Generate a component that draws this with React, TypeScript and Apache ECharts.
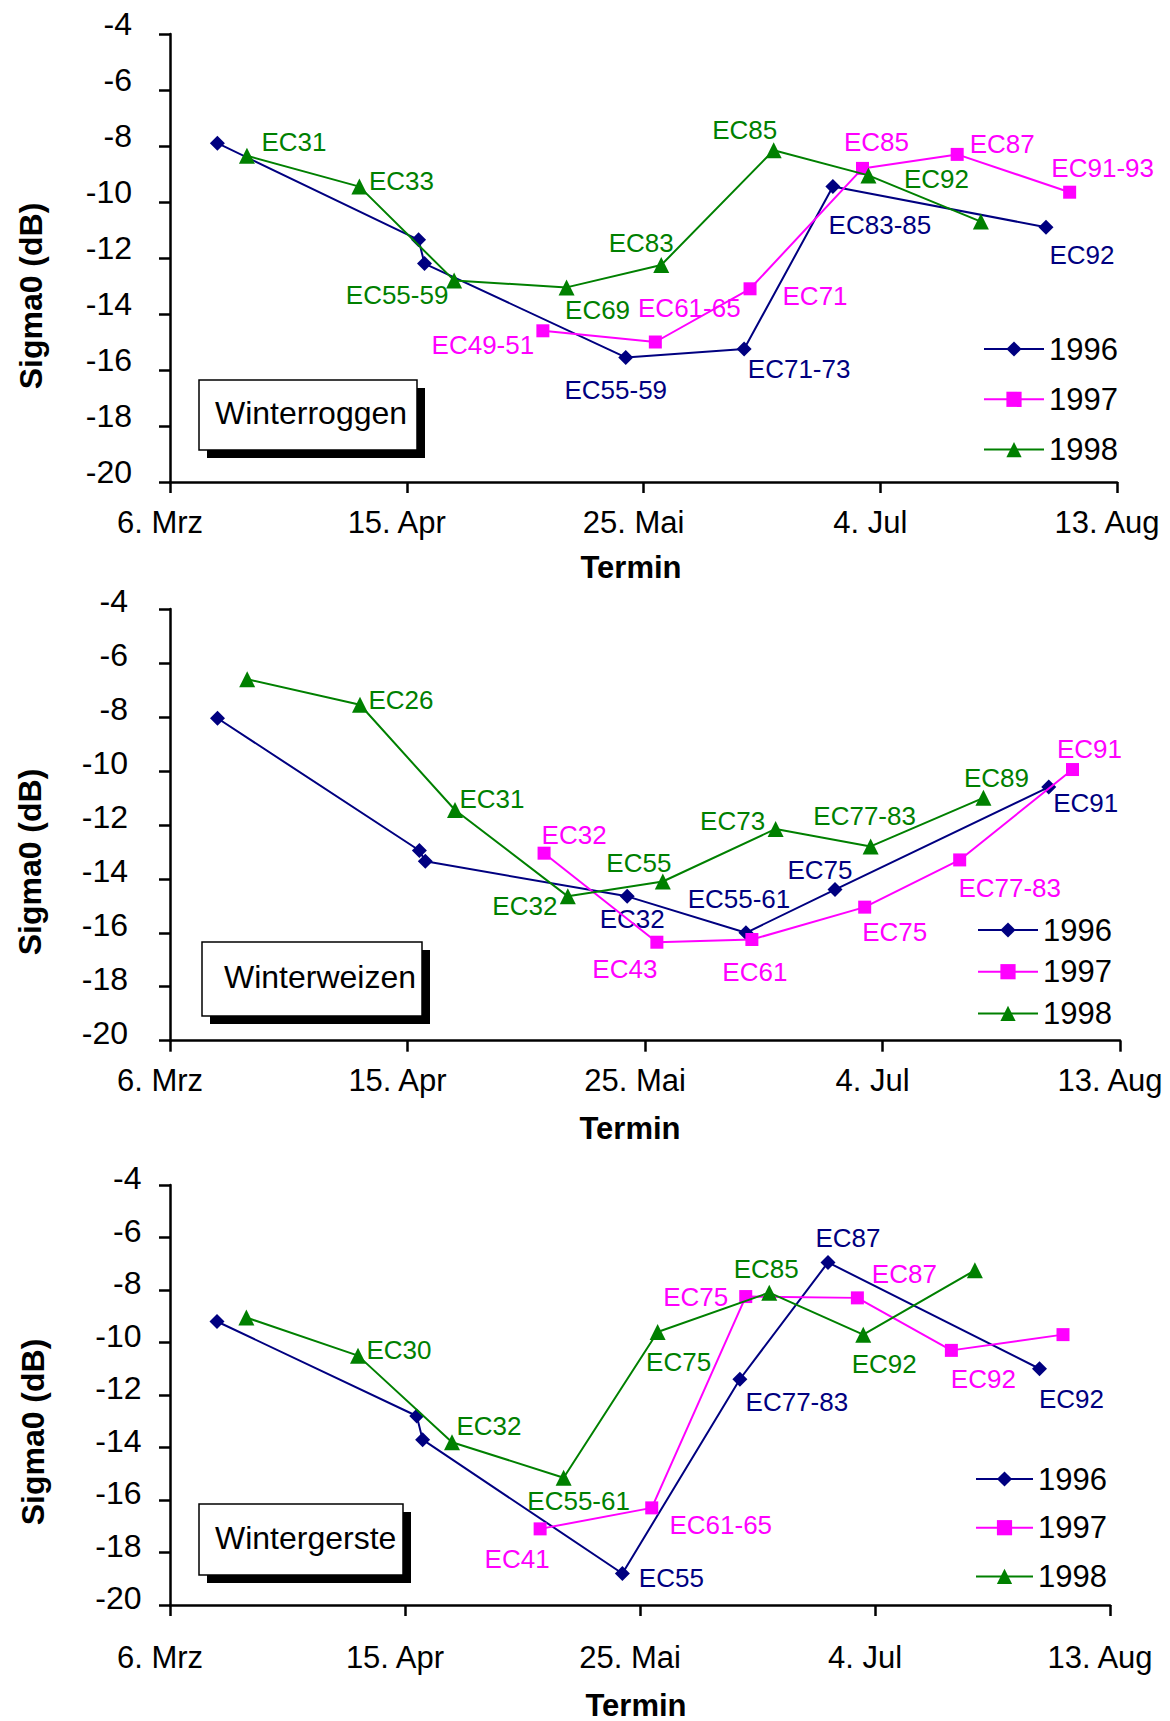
import React, { useEffect, useRef } from "react";
import * as echarts from "echarts";

// ---------- data ----------
const tickLabels = ["6. Mrz", "15. Apr", "25. Mai", "4. Jul", "13. Aug"];
const years = ["1996", "1997", "1998"];
const panelTitles = ["Winterroggen", "Winterweizen", "Wintergerste"];
const yAxisTitle = "Sigma0 (dB)";
const xAxisTitle = "Termin";

// acquisition dates (month-day), same for all crops of one year
const dates1996 = ["03-14", "04-17", "04-18", "05-22", "06-11", "06-26", "08-01"];
const dates1997 = ["05-08", "05-27", "06-12", "07-01", "07-17", "08-05"];
const dates1998 = ["03-19", "04-07", "04-23", "05-12", "05-28", "06-16", "07-02", "07-21"];

// Winterroggen
const roggen1996 = [-7.9, -11.35, -12.2, -15.55, -15.25, -9.45, -10.9];
const roggen1996Labels = ["", "", "", "EC55-59", "EC71-73", "EC83-85", "EC92"];
const roggen1997 = [-14.6, -15.0, -13.1, -8.8, -8.3, -9.65];
const roggen1997Labels = ["EC49-51", "EC61-65", "EC71", "EC85", "EC87", "EC91-93"];
const roggen1998 = [-8.35, -9.45, -12.8, -13.05, -12.25, -8.15, -9.05, -10.7];
const roggen1998Labels = ["EC31", "EC33", "EC55-59", "EC69", "EC83", "EC85", "EC92", ""];

// Winterweizen
const weizen1996 = [-8.05, -12.95, -13.35, -14.65, -16.0, -14.4, -10.6];
const weizen1996Labels = ["", "", "", "EC32", "EC55-61", "EC75", "EC91"];
const weizen1997 = [-13.05, -16.35, -16.25, -15.05, -13.3, -9.95];
const weizen1997Labels = ["EC32", "EC43", "EC61", "EC75", "EC77-83", "EC91"];
const weizen1998 = [-6.6, -7.55, -11.45, -14.65, -14.1, -12.15, -12.8, -11.0];
const weizen1998Labels = ["", "EC26", "EC31", "EC32", "EC55", "EC73", "EC77-83", "EC89"];

// Wintergerste
const gerste1996 = [-9.2, -12.8, -13.7, -18.8, -11.4, -6.95, -11.0];
const gerste1996Labels = ["", "", "", "EC55", "EC77-83", "EC87", "EC92"];
const gerste1997 = [-17.1, -16.3, -8.25, -8.3, -10.3, -9.7];
const gerste1997Labels = ["EC41", "EC61-65", "EC75", "EC87", "EC92", ""];
const gerste1998 = [-9.05, -10.5, -13.8, -15.15, -9.6, -8.1, -9.7, -7.25];
const gerste1998Labels = ["", "EC30", "EC32", "EC55-61", "EC75", "EC85", "EC92", ""];

// ---------- layout / style ----------
const FONT = "'Liberation Sans', Arial, sans-serif";
const COLORS = ["#000080", "#FF00FF", "#008000"];
const SYMBOLS = ["diamond", "rect", "triangle"];
const SYMBOL_SIZES = [15, 13, 16];

// label offsets (pixels from the marker centre), parallel to the label arrays
const labelOffsets = [
  [
    [null, null, null, [-10, 33], [55, 20], [47, 38], [36, 28]],
    [[-60, 14], [34, -34], [65, 7], [14, -26], [45, -10], [33, -24]],
    [[47, -14], [42, -6], [-57, 15], [31, 23], [-20, -22], [-29, -20], [68, 4], null],
  ],
  [
    [null, null, null, [5, 23], [-7, -34], [-15, -20], [37, 16]],
    [[30, -18], [-32, 27], [3, 32], [30, 25], [50, 28], [17, -21]],
    [null, [41, -5], [37, -11], [-43, 10], [-24, -19], [-43, -8], [-6, -30], [13, -20]],
  ],
  [
    [null, null, null, [49, 4], [57, 23], [20, -24], [32, 30]],
    [[-23, 30], [69, 17], [-50, 0], [47, -24], [32, 29], null],
    [null, [41, -6], [37, -16], [15, 23], [21, 30], [-3, -24], [21, 29], null],
  ],
];

const PANELS = [
  {
    grid: { left: 170, top: 34, width: 947, height: 448 },
    yLabelMargin: 38, yLabelShift: 20, xLabelMargin: 25,
    legend: { left: 983, top: 333, gap: 18.3, itemWidth: 60 },
    box: { x: 199, y: 380, w: 218, h: 70 }, titleX: 215,
    sigma: { x: 31, y: 296 }, termin: { x: 631, y: 567 },
  },
  {
    grid: { left: 170, top: 609, width: 950, height: 431.7 },
    yLabelMargin: 42, yLabelShift: 16, xLabelMargin: 24,
    legend: { left: 977, top: 914, gap: 9.7, itemWidth: 60 },
    box: { x: 202, y: 942, w: 220, h: 74 }, titleX: 224,
    sigma: { x: 30, y: 862 }, termin: { x: 630, y: 1128 },
  },
  {
    grid: { left: 170, top: 1185, width: 940, height: 420 },
    yLabelMargin: 28.5, yLabelShift: 14, xLabelMargin: 37,
    legend: { left: 975, top: 1463, gap: 16.7, itemWidth: 57 },
    box: { x: 199, y: 1504, w: 204, h: 71 }, titleX: 215,
    sigma: { x: 33, y: 1432 }, termin: { x: 636, y: 1705 },
  },
];

const panelData = [
  [[roggen1996, roggen1996Labels], [roggen1997, roggen1997Labels], [roggen1998, roggen1998Labels]],
  [[weizen1996, weizen1996Labels], [weizen1997, weizen1997Labels], [weizen1998, weizen1998Labels]],
  [[gerste1996, gerste1996Labels], [gerste1997, gerste1997Labels], [gerste1998, gerste1998Labels]],
];
const yearDates = [dates1996, dates1997, dates1998];

function dayOffset(md: string): number {
  const [m, d] = md.split("-").map(Number);
  return (Date.UTC(2001, m - 1, d) - Date.UTC(2001, 2, 6)) / 86400000;
}

function buildOption() {
  const grids: any[] = [];
  const xAxes: any[] = [];
  const yAxes: any[] = [];
  const legends: any[] = [];
  const series: any[] = [];
  const graphics: any[] = [];

  PANELS.forEach((p, pi) => {
    grids.push({ ...p.grid, containLabel: false });
    xAxes.push({
      type: "value", gridIndex: pi, min: 0, max: 160, interval: 40,
      axisLine: { show: true, onZero: false, lineStyle: { color: "#000", width: 2.5 } },
      axisTick: { show: true, inside: false, length: 11, lineStyle: { color: "#000", width: 2.5 } },
      splitLine: { show: false },
      axisLabel: {
        show: true, margin: p.xLabelMargin, fontSize: 31, color: "#000", fontFamily: FONT,
        padding: [0, 20, 0, 0], showMinLabel: true, showMaxLabel: true,
        formatter: (v: number) => tickLabels[Math.round(v / 40)] ?? "",
      },
    });
    yAxes.push({
      type: "value", gridIndex: pi, min: -20, max: -4, interval: 2,
      axisLine: { show: true, onZero: false, lineStyle: { color: "#000", width: 2.5 } },
      axisTick: { show: true, inside: false, length: 11, lineStyle: { color: "#000", width: 2.5 } },
      splitLine: { show: false },
      axisLabel: {
        show: true, margin: p.yLabelMargin, fontSize: 32, color: "#000", fontFamily: FONT,
        verticalAlign: "bottom", lineHeight: p.yLabelShift,
        showMinLabel: true, showMaxLabel: true,
      },
    });
    legends.push({
      data: years, orient: "vertical", left: p.legend.left, top: p.legend.top,
      itemGap: p.legend.gap, itemWidth: p.legend.itemWidth, itemHeight: 19,
      selectedMode: false, padding: 0,
      textStyle: { fontSize: 31, lineHeight: 32, color: "#000", fontFamily: FONT },
    });

    panelData[pi].forEach(([vals, labels], yi) => {
      const dates = yearDates[yi];
      const data = (vals as number[]).map((v, i) => {
        const txt = (labels as string[])[i];
        const off = labelOffsets[pi][yi][i];
        const item: any = { value: [dayOffset(dates[i]), v] };
        if (txt && off) {
          item.label = { show: true, formatter: txt, position: "inside", offset: off };
        }
        return item;
      });
      series.push({
        type: "line", name: years[yi], xAxisIndex: pi, yAxisIndex: pi,
        data, symbol: SYMBOLS[yi], symbolSize: SYMBOL_SIZES[yi], showSymbol: true,
        color: COLORS[yi],
        lineStyle: { color: COLORS[yi], width: 2 },
        itemStyle: { color: COLORS[yi] },
        label: {
          show: false, fontSize: 26, color: COLORS[yi], fontFamily: FONT,
          align: "center", verticalAlign: "middle",
        },
        emphasis: { disabled: true },
        z: 2 + yi,
      });
    });

    const b = p.box;
    graphics.push(
      { type: "rect", shape: { x: b.x + 8, y: b.y + 8, width: b.w, height: b.h }, style: { fill: "#000" }, z: 10 },
      { type: "rect", shape: { x: b.x, y: b.y, width: b.w, height: b.h }, style: { fill: "#fff", stroke: "#000", lineWidth: 1.5 }, z: 11 },
      {
        type: "text", x: p.titleX, y: b.y + b.h / 2 - 2, z: 12,
        style: { text: panelTitles[pi], fontSize: 32, fontFamily: FONT, fill: "#000", align: "left", verticalAlign: "middle" },
      },
      {
        type: "text", x: p.sigma.x, y: p.sigma.y, rotation: Math.PI / 2, z: 12,
        style: { text: yAxisTitle, fontSize: 32, fontWeight: "bold", fontFamily: FONT, fill: "#000", align: "center", verticalAlign: "middle" },
      },
      {
        type: "text", x: p.termin.x, y: p.termin.y, z: 12,
        style: { text: xAxisTitle, fontSize: 31, fontWeight: "bold", fontFamily: FONT, fill: "#000", align: "center", verticalAlign: "middle" },
      }
    );
  });

  return {
    animation: false,
    backgroundColor: "#fff",
    textStyle: { fontFamily: FONT },
    grid: grids,
    xAxis: xAxes,
    yAxis: yAxes,
    legend: legends,
    series,
    graphic: graphics,
  };
}

export default function App() {
  const ref = useRef<HTMLDivElement>(null);
  useEffect(() => {
    document.body.style.margin = "0";
    const chart = echarts.init(ref.current!, null, { renderer: "svg" });
    chart.setOption(buildOption() as any);
    return () => chart.dispose();
  }, []);
  return <div ref={ref} style={{ width: 1170, height: 1721, background: "#fff" }} />;
}
